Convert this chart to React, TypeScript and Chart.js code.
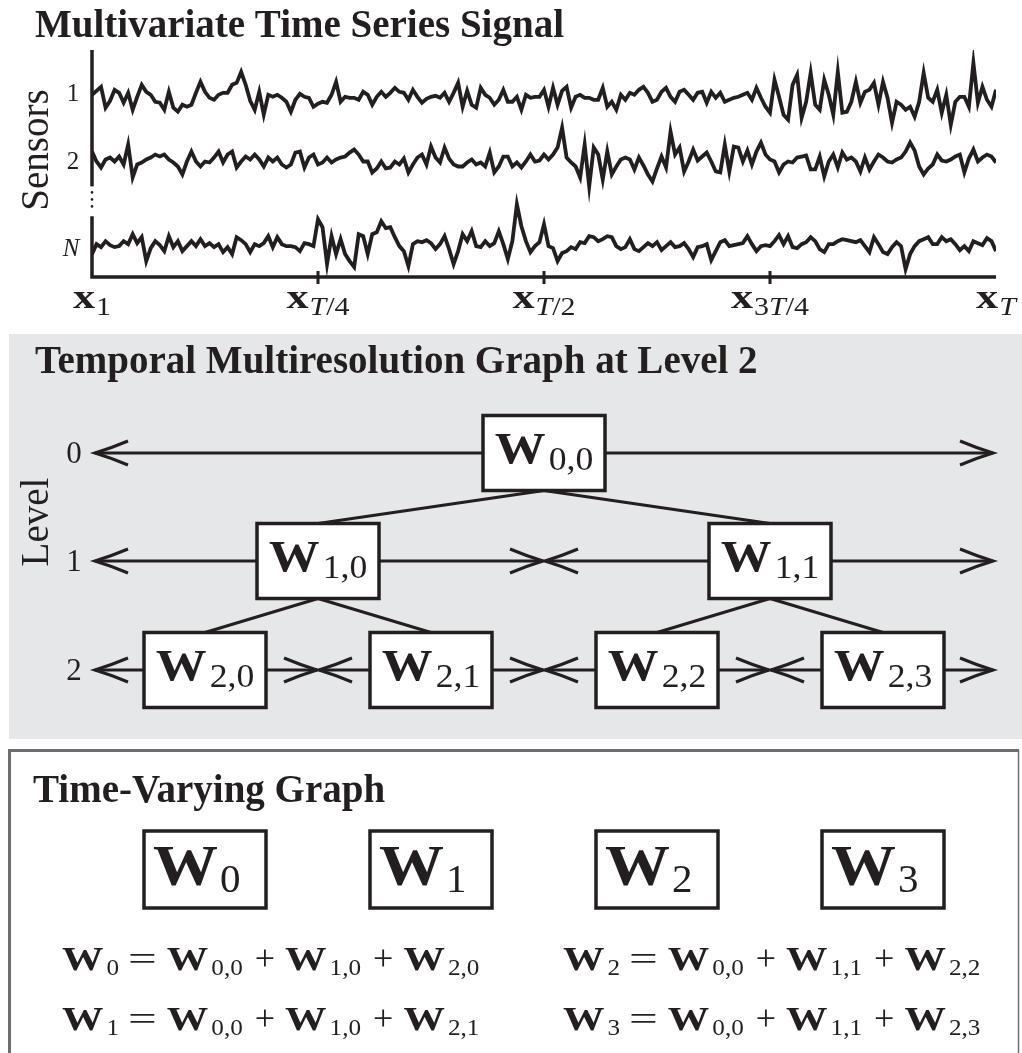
import { useEffect, useRef } from "react";
import { Chart, registerables } from "chart.js";

Chart.register(...registerables);

// ---- signal data (amplitude around each sensor's lane, sampled at t = 0..T) ----
const T = 200;

const SENSOR_1 = [
  0, 4, 8, -13, -6, 5, 2, -8, 2, -15,
  -2, 10, 3, 0, -7, -8, -15, 3, -13, -17,
  -10, -12, -10, 2, 13, 3, -3, -5, 0, 2,
  2, 10, 12,
  23, 10, -6, -15, 3, -20, 0,
  -2, 0, -3, -7, -17, -5, 1, -2, -3, -12,
  -9, -7, -8, 0, 13, -7, -2, -3, -3, -5,
  3, 0, -10, -2, 3, -2,
  2, 7, 3, 2, -5, 5, -2, -8, -4, -2,
  -1, -3, 2, -7, 2, 12, -12, 4, -10, -13,
  7, 0, -3, -10, -5, 5, -7, -7, -2, -15, 0, -3, -2,
  -2, 5, -12, 7, -10, 4, 8, -13, -2, 0,
  -3, -3, -5, -5, 7, -12, -7, -15, 0, -5,
  2, 0, 5, 8, 2, -7, -5, 3, 7, -2, -7, 3, 5,
  0, -5, 2, 3, -8, 3, -3, 2, -7, -5,
  -3, -2, 0, 2, -5, 7, -3, -12, -18, 15,
  -2, -20, -25, 10, 20, -23, -7, 22, -10, -15, 15, 0, -20,
  23, -18, -17, -7, 13, -8, 3, 5, 12, -10,
  13, -3, -28, -7, -10, -15, -12, -22, -7, 22,
  -3, -7, 5, -18, 0, -30, -7, -2, -2, -12,
  32, -8, 8, -5, -12, 5,
];

const SENSOR_2 = [
  11, 1, -5, 3, 5, 1, 6, -2, 18, -15,
  -2, 0, 3, 5, 8, 6, 8, 3, 0, -4,
  -12, 1, 11, 1, -4, 1, 0, 5, 11, 0,
  8, 11, -5,
  1, 6, 3, 8, 3, -4, 5,
  1, 5, -2, -5, -2, 10, 11, -5, 5, 8,
  -2, 0, 5, 0, 3, 5, 6, 10, 13, 8,
  1, 1, -10, -6, 1, -6,
  -5, 1, -2, 4, -10, -2, 5, 8, -2, 16,
  5, 0, 15, 4, -2, -4, -4, 0, 3, -2,
  0, -4, 10, -10, -4, 6, 6, -4, 0, -5, 1, 8, 1,
  2, 8, 3, 8, 15, 35, 5, 0, -4, -15,
  18, -24, 15, 8, -17, 11, -12, -4, 3, 5,
  3, -7, 5, -3, -12, -19, -6, 6, -5, 31, 8, 15, -9,
  1, 13, 2, 6, 10, 1, -9, -10, 18, -9,
  16, 15, 1, 12, -2, 11, 20, 8, 3, 1,
  -10, -2, 1, 0, 5, 6, 7, -7, -7, 6, -14, 1, 8,
  -5, 10, 3, 5, 1, -9, 5, -7, 1, 8,
  5, 1, 0, 3, 5, 11, 20, 12, -4, -12,
  -6, -2, 8, 2, 1, 3, 6, 8, -10, 4,
  13, 1, 5, 8, 6, 0,
];

const SENSOR_N = [
  -8, 2, -1, 5, 1, -1, 0, 5, 2, 12,
  3, 9, -15, -2, 5, 1, -5, 10, -1, 5,
  -5, 0, 5, 0, 7, 0, 3, -1, 2, -6,
  -1, -8, 9,
  6, 2, -6, 2, 0, 3, 10,
  -1, 9, 2, 0, 0, -1, -5, 3, 2, 0,
  27, 19, -18, 10, -8, 7, -8, -15, -21, 12,
  10, -8, 12, 14, 25, 18,
  19, 9, 0, -5, -20, 2, 5, 4, 6, 3,
  -3, 2, 10, -3, -18, -5, 12, 5, 15, 0,
  -1, 5, 0, 3, 15, 2, -13, 5, 42, 20, 5, -6, 0,
  4, 22, 0, -2, -15, -7, -5, -1, -3, 4,
  3, 10, 9, 5, 7, 10, 9, 0, -3, -1,
  7, -3, -5, -1, 3, 0, 4, -4, 0, 4, -1, 0, 3,
  -3, -11, -1, 0, 2, -14, -5, 4, 6, 0,
  1, 2, 3, 10, 2, -5, 0, 1, 0, 5,
  11, 2, 10, -1, -2, 2, 4, 9, 5, -3, -6, 2, 2,
  5, 7, 6, 5, 4, 6, 0, -6, 9, 2,
  -6, -8, -1, 4, 0, -23, -8, 0, 5, 7,
  9, 2, 2, 9, 5, 7, 2, -4, 0, -5,
  5, 3, 1, 8, 5, -5,
];

const SENSOR_SERIES = [SENSOR_1, SENSOR_2, SENSOR_N];
const SENSOR_LABELS = ["1", "2", "N"];
const SENSOR_LANES = [183, 115, 31];

// time ticks as fractions of T with their subscript pieces
const TIME_TICKS = [0, 0.25, 0.5, 0.75, 1];
const TIME_TICK_SUBS: { text: string; italic?: boolean }[][] = [
  [{ text: "1" }],
  [{ text: "T", italic: true }, { text: "/4" }],
  [{ text: "T", italic: true }, { text: "/2" }],
  [{ text: "3" }, { text: "T", italic: true }, { text: "/4" }],
  [{ text: "T", italic: true }],
];

const LEVELS = [0, 1, 2];
const GRAPH_NAMES = ["0", "1", "2", "3"];
// each time-varying graph is the sum of one node per level
const GRAPH_TERMS = [
  ["0,0", "1,0", "2,0"],
  ["0,0", "1,0", "2,1"],
  ["0,0", "1,1", "2,2"],
  ["0,0", "1,1", "2,3"],
];

// ---- drawing helpers ----
const INK = "#231f20";
const PANEL_GRAY = "#e6e7e8";
const FRAME_GRAY = "#6d6e71";
const SERIF = '"Liberation Serif", "Times New Roman", serif';

type Run = {
  text: string;
  size: number;
  bold?: boolean;
  italic?: boolean;
  dy?: number;
  gap?: number;
  sx?: number;
  family?: string;
};

const fontOf = (r: Run) =>
  `${r.italic ? "italic " : ""}${r.bold ? "bold " : ""}${r.size}px ${r.family ?? SERIF}`;

function runsWidth(ctx: CanvasRenderingContext2D, runs: Run[]) {
  let w = 0;
  for (const r of runs) {
    ctx.font = fontOf(r);
    w += (r.gap ?? 0) + ctx.measureText(r.text).width * (r.sx ?? 1);
  }
  return w;
}

function drawRuns(
  ctx: CanvasRenderingContext2D,
  runs: Run[],
  x: number,
  y: number,
  align: "left" | "center" = "left"
) {
  let cx = align === "center" ? x - runsWidth(ctx, runs) / 2 : x;
  ctx.save();
  ctx.fillStyle = INK;
  ctx.textAlign = "left";
  ctx.textBaseline = "alphabetic";
  for (const r of runs) {
    cx += r.gap ?? 0;
    ctx.font = fontOf(r);
    const sx = r.sx ?? 1;
    const w = ctx.measureText(r.text).width * sx;
    ctx.save();
    ctx.translate(cx, y + (r.dy ?? 0));
    ctx.scale(sx, 1);
    ctx.fillText(r.text, 0, 0);
    ctx.restore();
    cx += w;
  }
  ctx.restore();
}

function drawRotated(ctx: CanvasRenderingContext2D, text: string, x: number, y: number, size: number) {
  ctx.save();
  ctx.translate(x, y);
  ctx.rotate(-Math.PI / 2);
  ctx.font = `${size}px ${SERIF}`;
  ctx.fillStyle = INK;
  ctx.textAlign = "center";
  ctx.textBaseline = "middle";
  ctx.fillText(text, 0, 0);
  ctx.restore();
}

const HEAD_LEN = 33;
const HEAD_HALF = 12;

function arrowHead(ctx: CanvasRenderingContext2D, tipX: number, y: number, dir: number) {
  const bx = tipX - dir * HEAD_LEN;
  ctx.beginPath();
  ctx.moveTo(bx, y - HEAD_HALF);
  ctx.quadraticCurveTo(tipX - dir * HEAD_LEN * 0.5, y - HEAD_HALF * 0.42, tipX, y);
  ctx.quadraticCurveTo(tipX - dir * HEAD_LEN * 0.5, y + HEAD_HALF * 0.42, bx, y + HEAD_HALF);
  ctx.stroke();
}

function boxLabel(l: number, k: number): Run[] {
  return [
    { text: "W", size: 45, bold: true, sx: 1.13 },
    { text: `${l},${k}`, size: 33, gap: 3, dy: 7, sx: 1.08 },
  ];
}

function equationRuns(name: string, terms: string[]): Run[] {
  const W = (gap = 0): Run => ({ text: "W", size: 34, bold: true, sx: 1.22, gap });
  const sub = (t: string): Run => ({ text: t, size: 24, dy: 5, gap: 3, sx: 1.05 });
  const runs: Run[] = [W(), sub(name), { text: "=", size: 34, sx: 1.5, gap: 9 }];
  terms.forEach((t, i) => {
    if (i > 0) runs.push({ text: "+", size: 36, gap: 12 });
    runs.push(W(10), sub(t));
  });
  return runs;
}

const figurePlugin = {
  id: "figureLayout",
  beforeDraw(chart: Chart) {
    const ctx = chart.ctx;
    ctx.save();
    ctx.fillStyle = "#ffffff";
    ctx.fillRect(0, 0, chart.width, chart.height);
    // middle panel background
    ctx.fillStyle = PANEL_GRAY;
    ctx.fillRect(9, 334, 1013, 405);
    ctx.restore();
  },
  afterDraw(chart: Chart) {
    const ctx = chart.ctx;
    const xs = chart.scales.x;
    const ys = chart.scales.y;
    const area = chart.chartArea;
    const x0 = area.left;
    const yAxis = area.bottom;

    ctx.save();
    ctx.strokeStyle = INK;
    ctx.fillStyle = INK;
    ctx.lineCap = "butt";
    ctx.lineJoin = "miter";

    // ---------- top panel: axes ----------
    ctx.lineWidth = 3.5;
    const breakTop = ys.getPixelForValue(91);
    const breakBottom = ys.getPixelForValue(61);
    ctx.beginPath();
    ctx.moveTo(x0, area.top);
    ctx.lineTo(x0, breakTop);
    ctx.stroke();
    ctx.beginPath();
    ctx.moveTo(x0, breakBottom);
    ctx.lineTo(x0, yAxis);
    ctx.lineTo(xs.getPixelForValue(T), yAxis);
    ctx.stroke();
    for (const dy of [6, 13, 20]) {
      ctx.beginPath();
      ctx.arc(x0, breakTop + dy, 1.3, 0, Math.PI * 2);
      ctx.fill();
    }
    ctx.lineWidth = 3;
    TIME_TICKS.forEach((f) => {
      if (f === 0 || f === 1) return;
      const px = xs.getPixelForValue(f * T);
      ctx.beginPath();
      ctx.moveTo(px, yAxis - 6);
      ctx.lineTo(px, yAxis + 7);
      ctx.stroke();
    });

    TIME_TICKS.forEach((f, i) => {
      const px = xs.getPixelForValue(f * T);
      const runs: Run[] = [{ text: "x", size: 34, bold: true, sx: 1.3 }];
      TIME_TICK_SUBS[i].forEach((s, j) =>
        runs.push({ text: s.text, italic: s.italic, size: 25, dy: 7, sx: 1.2, gap: j === 0 ? 1 : 0 })
      );
      drawRuns(ctx, runs, px, 308, "center");
    });

    SENSOR_LABELS.forEach((lab, k) => {
      const py = ys.getPixelForValue(SENSOR_LANES[k]);
      ctx.font = `${lab === "N" ? "italic " : ""}25px ${SERIF}`;
      ctx.textAlign = "center";
      ctx.textBaseline = "middle";
      ctx.fillText(lab, lab === "N" ? 71 : 73, py + (lab === "N" ? 3 : 0));
    });

    drawRotated(ctx, "Sensors", 38, 150, 39);
    drawRuns(ctx, [{ text: "Multivariate Time Series Signal", size: 39, bold: true }], 35, 37);

    // ---------- middle panel: temporal multiresolution graph ----------
    drawRuns(ctx, [{ text: "Temporal Multiresolution Graph at Level 2", size: 39, bold: true }], 35, 373);
    drawRotated(ctx, "Level", 38, 522, 39);

    const rowY = [453, 561, 670];
    const boxW = 122;
    const boxH = 75;
    const nodeX = (l: number, k: number) => xs.getPixelForValue(((k + 0.5) * T) / 2 ** l);

    ctx.lineWidth = 3;
    LEVELS.forEach((l) => {
      const y = rowY[l];
      ctx.font = `31px ${SERIF}`;
      ctx.textAlign = "center";
      ctx.textBaseline = "middle";
      ctx.fillText(String(l), 74, y + 2);
      const n = 2 ** l;
      for (let k = 0; k < n; k++) {
        const a = xs.getPixelForValue((k * T) / n) + (k === 0 ? 3 : 1);
        const b = xs.getPixelForValue(((k + 1) * T) / n) - (k === n - 1 ? 3 : 1);
        ctx.beginPath();
        ctx.moveTo(a, y);
        ctx.lineTo(b, y);
        ctx.stroke();
        arrowHead(ctx, a, y, -1);
        arrowHead(ctx, b, y, 1);
      }
    });

    // parent-child links
    LEVELS.slice(1).forEach((l) => {
      for (let k = 0; k < 2 ** l; k++) {
        const pk = Math.floor(k / 2);
        ctx.beginPath();
        ctx.moveTo(nodeX(l - 1, pk), rowY[l - 1] + boxH / 2);
        ctx.lineTo(nodeX(l, k), rowY[l] - boxH / 2);
        ctx.stroke();
      }
    });

    LEVELS.forEach((l) => {
      for (let k = 0; k < 2 ** l; k++) {
        const cx = nodeX(l, k);
        const cy = rowY[l];
        ctx.fillStyle = "#ffffff";
        ctx.fillRect(cx - boxW / 2, cy - boxH / 2, boxW, boxH);
        ctx.lineWidth = 3.5;
        ctx.strokeRect(cx - boxW / 2, cy - boxH / 2, boxW, boxH);
        ctx.fillStyle = INK;
        drawRuns(ctx, boxLabel(l, k), cx, cy + 10, "center");
      }
    });

    // ---------- bottom panel: time-varying graph ----------
    ctx.strokeStyle = FRAME_GRAY;
    ctx.lineWidth = 3;
    ctx.beginPath();
    ctx.moveTo(9.5, 1060);
    ctx.lineTo(9.5, 750.5);
    ctx.lineTo(1019, 750.5);
    ctx.stroke();
    ctx.lineWidth = 1.5;
    ctx.beginPath();
    ctx.moveTo(1018.5, 750);
    ctx.lineTo(1018.5, 1060);
    ctx.stroke();

    ctx.strokeStyle = INK;
    drawRuns(ctx, [{ text: "Time-Varying Graph", size: 39, bold: true }], 33, 802);

    GRAPH_NAMES.forEach((g, k) => {
      const cx = nodeX(2, k);
      const top = 831;
      ctx.lineWidth = 3.5;
      ctx.strokeRect(cx - boxW / 2, top, boxW, 77);
      drawRuns(
        ctx,
        [
          { text: "W", size: 56, bold: true, sx: 1.16 },
          { text: g, size: 41, gap: 2, dy: 7 },
        ],
        cx - boxW / 2 + 9,
        885
      );
    });

    GRAPH_TERMS.forEach((terms, k) => {
      const col = k < 2 ? 62 : 563;
      const base = k % 2 === 0 ? 970 : 1030;
      drawRuns(ctx, equationRuns(GRAPH_NAMES[k], terms), col, base);
    });

    ctx.restore();
  },
};

export default function App() {
  const canvasRef = useRef<HTMLCanvasElement | null>(null);

  useEffect(() => {
    const canvas = canvasRef.current;
    if (!canvas) return;
    const chart = new Chart(canvas, {
      type: "line",
      data: {
        datasets: SENSOR_SERIES.map((values, k) => ({
          label: `Sensor ${SENSOR_LABELS[k]}`,
          data: values.map((v, i) => ({ x: i, y: SENSOR_LANES[k] + v })),
          borderColor: INK,
          borderWidth: 3.8,
          pointRadius: 0,
          tension: 0,
          fill: false,
          borderJoinStyle: "miter" as const,
        })),
      },
      options: {
        animation: false,
        responsive: false,
        devicePixelRatio: 1,
        events: [],
        layout: { padding: { left: 92, right: 26, top: 50, bottom: 1053 - 277 } },
        scales: {
          x: { type: "linear", min: 0, max: T, display: false },
          y: { type: "linear", min: 0, max: 228, display: false },
        },
        plugins: { legend: { display: false }, tooltip: { enabled: false } },
      },
      plugins: [figurePlugin],
    });
    return () => chart.destroy();
  }, []);

  return (
    <div style={{ position: "absolute", left: 0, top: 0, width: 1022, height: 1053, background: "#fff" }}>
      <canvas ref={canvasRef} width={1022} height={1053} style={{ display: "block" }} />
    </div>
  );
}
